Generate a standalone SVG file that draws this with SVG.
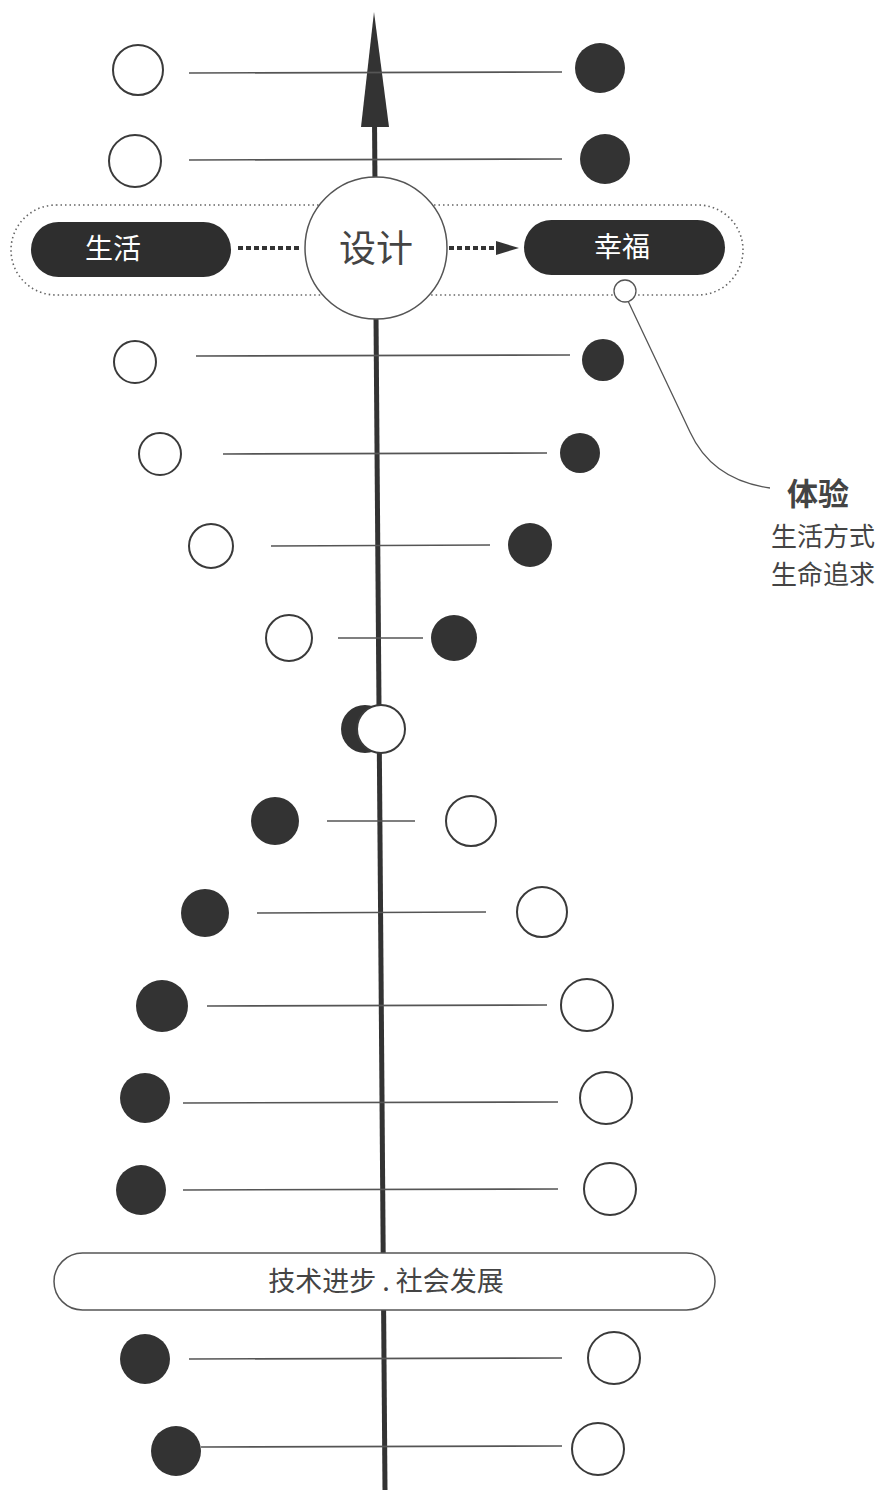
<svg xmlns="http://www.w3.org/2000/svg" width="884" height="1490" viewBox="0 0 884 1490">
<defs>
<style>
.hollow{fill:#fff;stroke:#3a3a3a;stroke-width:2}
.solid{fill:#333;stroke:none}
.rung{stroke:#555;stroke-width:1.6;fill:none}
.pill{fill:#2e2e2e}
.pilltxt{font-family:"Noto Sans CJK SC","Noto Sans",sans-serif;font-size:28px;fill:#fff;text-anchor:middle}
.txt{font-family:"Noto Sans CJK SC","Noto Sans",sans-serif;fill:#444;text-anchor:middle}
.dash{stroke:#333;stroke-width:4;stroke-dasharray:5 3;fill:none}
</style>
</defs>
<rect width="884" height="1490" fill="#fff"/>

<g id="connectors">
<line x1="374.5" y1="120" x2="385" y2="1490" stroke="#333" stroke-width="5"/>
<polygon points="374,12 361,127 389,127" fill="#333"/>
<line class="rung" x1="189" y1="73" x2="562" y2="72"/>
<line class="rung" x1="189" y1="160" x2="562" y2="159"/>
<line class="rung" x1="196" y1="356" x2="570" y2="355"/>
<line class="rung" x1="223" y1="454" x2="547" y2="453"/>
<line class="rung" x1="271" y1="546" x2="490" y2="545"/>
<line class="rung" x1="338" y1="638" x2="423" y2="638"/>
<line class="rung" x1="327" y1="821" x2="415" y2="821"/>
<line class="rung" x1="257" y1="913" x2="486" y2="912"/>
<line class="rung" x1="207" y1="1006" x2="547" y2="1005"/>
<line class="rung" x1="183" y1="1103" x2="558" y2="1102"/>
<line class="rung" x1="183" y1="1190" x2="558" y2="1189"/>
<line class="rung" x1="189" y1="1359" x2="562" y2="1358"/>
<line class="rung" x1="201" y1="1447" x2="562" y2="1446"/>
<line class="dash" x1="238" y1="248" x2="300" y2="248"/>
<line class="dash" x1="449" y1="248" x2="498" y2="248"/>
<polygon points="496,241 519,248 496,255" fill="#333"/>
<path d="M628,301 L690,432 Q712,480 770,488" fill="none" stroke="#555" stroke-width="1.3"/>
</g>

<g id="frame">
<rect x="11" y="205" width="732" height="90" rx="45" fill="none" stroke="#666" stroke-width="1.6" stroke-dasharray="1.5 3"/>
</g>

<g id="node-design">
<circle cx="376" cy="248" r="71" fill="#fff" stroke="#555" stroke-width="1.5"/>
<text class="txt" x="376" y="262" font-size="37">设计</text>
</g>
<g id="node-life">
<rect class="pill" x="31" y="222" width="200" height="55" rx="27.5"/>
<text class="pilltxt" x="113" y="259">生活</text>
</g>
<g id="node-happy">
<rect class="pill" x="524" y="220" width="201" height="55" rx="27.5"/>
<text class="pilltxt" x="622" y="257">幸福</text>
</g>
<g id="node-anchor">
<circle cx="625" cy="291" r="11" fill="#fff" stroke="#555" stroke-width="1.3"/>
</g>
<g id="node-experience">
<text class="txt" x="818" y="505" font-size="31" font-weight="bold" fill="#3a3a3a">体验</text>
<text class="txt" x="823" y="546" font-size="26">生活方式</text>
<text class="txt" x="823" y="584" font-size="26">生命追求</text>
</g>

<g id="row1"><circle class="hollow" cx="138" cy="70" r="25"/><circle class="solid" cx="600" cy="68" r="25"/></g>
<g id="row2"><circle class="hollow" cx="135" cy="161" r="26"/><circle class="solid" cx="605" cy="159" r="25"/></g>
<g id="row3"><circle class="hollow" cx="135" cy="362" r="21"/><circle class="solid" cx="603" cy="360" r="21"/></g>
<g id="row4"><circle class="hollow" cx="160" cy="454" r="21"/><circle class="solid" cx="580" cy="453" r="20"/></g>
<g id="row5"><circle class="hollow" cx="211" cy="546" r="22"/><circle class="solid" cx="530" cy="545" r="22"/></g>
<g id="row6"><circle class="hollow" cx="289" cy="638" r="23"/><circle class="solid" cx="454" cy="638" r="23"/></g>
<g id="row7"><circle class="solid" cx="365" cy="729" r="24"/><circle class="hollow" cx="381" cy="729" r="24"/></g>
<g id="row8"><circle class="solid" cx="275" cy="821" r="24"/><circle class="hollow" cx="471" cy="821" r="25"/></g>
<g id="row9"><circle class="solid" cx="205" cy="913" r="24"/><circle class="hollow" cx="542" cy="912" r="25"/></g>
<g id="row10"><circle class="solid" cx="162" cy="1006" r="26"/><circle class="hollow" cx="587" cy="1005" r="26"/></g>
<g id="row11"><circle class="solid" cx="145" cy="1098" r="25"/><circle class="hollow" cx="606" cy="1098" r="26"/></g>
<g id="row12"><circle class="solid" cx="141" cy="1190" r="25"/><circle class="hollow" cx="610" cy="1189" r="26"/></g>

<g id="node-progress">
<rect x="54" y="1253" width="661" height="57" rx="28.5" fill="#fff" stroke="#555" stroke-width="1.5"/>
<text class="txt" x="386" y="1291" font-size="27">技术进步 . 社会发展</text>
</g>

<g id="row13"><circle class="solid" cx="145" cy="1359" r="25"/><circle class="hollow" cx="614" cy="1358" r="26"/></g>
<g id="row14"><circle class="solid" cx="176" cy="1451" r="25"/><circle class="hollow" cx="598" cy="1449" r="26"/></g>
</svg>
